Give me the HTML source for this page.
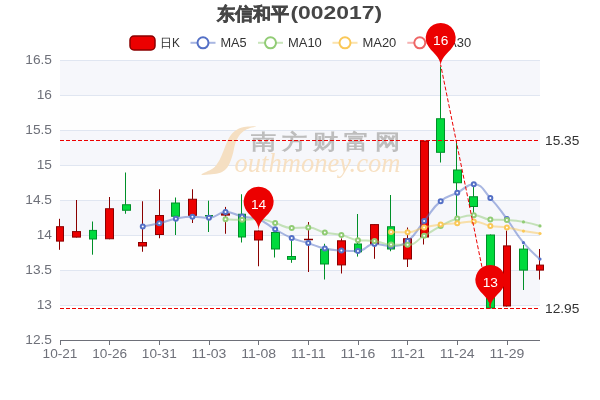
<!DOCTYPE html>
<html><head><meta charset="utf-8"><style>
html,body{margin:0;padding:0;background:#fff;overflow:hidden;}
svg{display:block;will-change:transform;}
text{font-family:"Liberation Sans",sans-serif;}
.ax{font-size:12px;fill:#6e7079;}
.lg{font-size:12px;fill:#333;}
.ml{font-size:12px;fill:#333;}
.pl{font-size:12px;fill:#fff;}
.tt{font-size:18px;font-weight:bold;fill:#464646;}
.wm1{font-family:"Liberation Serif",serif;font-style:italic;font-size:27px;fill:#f7e0c2;}
.wm2{font-size:25px;font-weight:bold;fill:#bdbdbd;}
</style></head><body>
<svg width="600" height="400" viewBox="0 0 600 400">
<rect x="60" y="60" width="480" height="35" fill="#f6f7fb"/>
<rect x="60" y="95" width="480" height="35" fill="#fefefe"/>
<rect x="60" y="130" width="480" height="35" fill="#f6f7fb"/>
<rect x="60" y="165" width="480" height="35" fill="#fefefe"/>
<rect x="60" y="200" width="480" height="35" fill="#f6f7fb"/>
<rect x="60" y="235" width="480" height="35" fill="#fefefe"/>
<rect x="60" y="270" width="480" height="35" fill="#f6f7fb"/>
<rect x="60" y="305" width="480" height="35" fill="#fefefe"/>
<line x1="60" y1="60.5" x2="540" y2="60.5" stroke="#e0e6f1" stroke-width="1"/>
<line x1="60" y1="95.5" x2="540" y2="95.5" stroke="#e0e6f1" stroke-width="1"/>
<line x1="60" y1="130.5" x2="540" y2="130.5" stroke="#e0e6f1" stroke-width="1"/>
<line x1="60" y1="165.5" x2="540" y2="165.5" stroke="#e0e6f1" stroke-width="1"/>
<line x1="60" y1="200.5" x2="540" y2="200.5" stroke="#e0e6f1" stroke-width="1"/>
<line x1="60" y1="235.5" x2="540" y2="235.5" stroke="#e0e6f1" stroke-width="1"/>
<line x1="60" y1="270.5" x2="540" y2="270.5" stroke="#e0e6f1" stroke-width="1"/>
<line x1="60" y1="305.5" x2="540" y2="305.5" stroke="#e0e6f1" stroke-width="1"/>
<line x1="60" y1="340.5" x2="540" y2="340.5" stroke="#6e7079" stroke-width="1"/>
<line x1="60.5" y1="340" x2="60.5" y2="345" stroke="#6e7079" stroke-width="1"/>
<line x1="109.5" y1="340" x2="109.5" y2="345" stroke="#6e7079" stroke-width="1"/>
<line x1="159.5" y1="340" x2="159.5" y2="345" stroke="#6e7079" stroke-width="1"/>
<line x1="209.5" y1="340" x2="209.5" y2="345" stroke="#6e7079" stroke-width="1"/>
<line x1="258.5" y1="340" x2="258.5" y2="345" stroke="#6e7079" stroke-width="1"/>
<line x1="308.5" y1="340" x2="308.5" y2="345" stroke="#6e7079" stroke-width="1"/>
<line x1="358.5" y1="340" x2="358.5" y2="345" stroke="#6e7079" stroke-width="1"/>
<line x1="407.5" y1="340" x2="407.5" y2="345" stroke="#6e7079" stroke-width="1"/>
<line x1="457.5" y1="340" x2="457.5" y2="345" stroke="#6e7079" stroke-width="1"/>
<line x1="507.5" y1="340" x2="507.5" y2="345" stroke="#6e7079" stroke-width="1"/>
<text x="52" y="64.3" class="ax" text-anchor="end" textLength="26.72" lengthAdjust="spacingAndGlyphs">16.5</text>
<text x="52" y="99.3" class="ax" text-anchor="end" textLength="15.27" lengthAdjust="spacingAndGlyphs">16</text>
<text x="52" y="134.3" class="ax" text-anchor="end" textLength="26.72" lengthAdjust="spacingAndGlyphs">15.5</text>
<text x="52" y="169.3" class="ax" text-anchor="end" textLength="15.27" lengthAdjust="spacingAndGlyphs">15</text>
<text x="52" y="204.3" class="ax" text-anchor="end" textLength="26.72" lengthAdjust="spacingAndGlyphs">14.5</text>
<text x="52" y="239.3" class="ax" text-anchor="end" textLength="15.27" lengthAdjust="spacingAndGlyphs">14</text>
<text x="52" y="274.3" class="ax" text-anchor="end" textLength="26.72" lengthAdjust="spacingAndGlyphs">13.5</text>
<text x="52" y="309.3" class="ax" text-anchor="end" textLength="15.27" lengthAdjust="spacingAndGlyphs">13</text>
<text x="52" y="344.3" class="ax" text-anchor="end" textLength="26.72" lengthAdjust="spacingAndGlyphs">12.5</text>
<text x="60.0" y="357.5" class="ax" text-anchor="middle" textLength="34.87" lengthAdjust="spacingAndGlyphs">10-21</text>
<text x="109.7" y="357.5" class="ax" text-anchor="middle" textLength="34.87" lengthAdjust="spacingAndGlyphs">10-26</text>
<text x="159.3" y="357.5" class="ax" text-anchor="middle" textLength="34.87" lengthAdjust="spacingAndGlyphs">10-31</text>
<text x="209.0" y="357.5" class="ax" text-anchor="middle" textLength="34.87" lengthAdjust="spacingAndGlyphs">11-03</text>
<text x="258.6" y="357.5" class="ax" text-anchor="middle" textLength="34.87" lengthAdjust="spacingAndGlyphs">11-08</text>
<text x="308.3" y="357.5" class="ax" text-anchor="middle" textLength="34.87" lengthAdjust="spacingAndGlyphs">11-11</text>
<text x="357.9" y="357.5" class="ax" text-anchor="middle" textLength="34.87" lengthAdjust="spacingAndGlyphs">11-16</text>
<text x="407.6" y="357.5" class="ax" text-anchor="middle" textLength="34.87" lengthAdjust="spacingAndGlyphs">11-21</text>
<text x="457.2" y="357.5" class="ax" text-anchor="middle" textLength="34.87" lengthAdjust="spacingAndGlyphs">11-24</text>
<text x="506.9" y="357.5" class="ax" text-anchor="middle" textLength="34.87" lengthAdjust="spacingAndGlyphs">11-29</text>
<line x1="59.50" y1="218.80" x2="59.50" y2="226.70" stroke="#8a0000" stroke-width="1"/>
<line x1="59.50" y1="241.10" x2="59.50" y2="249.80" stroke="#8a0000" stroke-width="1"/>
<rect x="56.50" y="226.70" width="7.00" height="14.40" fill="#ec0000" stroke="#8a0000" stroke-width="1"/>
<line x1="76.50" y1="200.00" x2="76.50" y2="231.60" stroke="#8a0000" stroke-width="1"/>
<line x1="76.50" y1="237.10" x2="76.50" y2="237.60" stroke="#8a0000" stroke-width="1"/>
<rect x="72.50" y="231.60" width="8.00" height="5.50" fill="#ec0000" stroke="#8a0000" stroke-width="1"/>
<line x1="92.50" y1="221.50" x2="92.50" y2="230.40" stroke="#008f28" stroke-width="1"/>
<line x1="92.50" y1="239.00" x2="92.50" y2="254.70" stroke="#008f28" stroke-width="1"/>
<rect x="89.50" y="230.40" width="7.00" height="8.60" fill="#00da3c" stroke="#008f28" stroke-width="1"/>
<line x1="109.50" y1="197.00" x2="109.50" y2="208.75" stroke="#8a0000" stroke-width="1"/>
<line x1="109.50" y1="238.75" x2="109.50" y2="239.25" stroke="#8a0000" stroke-width="1"/>
<rect x="105.50" y="208.75" width="8.00" height="30.00" fill="#ec0000" stroke="#8a0000" stroke-width="1"/>
<line x1="125.50" y1="172.50" x2="125.50" y2="204.75" stroke="#008f28" stroke-width="1"/>
<line x1="125.50" y1="210.25" x2="125.50" y2="213.75" stroke="#008f28" stroke-width="1"/>
<rect x="122.50" y="204.75" width="8.00" height="5.50" fill="#00da3c" stroke="#008f28" stroke-width="1"/>
<line x1="142.50" y1="201.25" x2="142.50" y2="242.50" stroke="#8a0000" stroke-width="1"/>
<line x1="142.50" y1="246.00" x2="142.50" y2="251.75" stroke="#8a0000" stroke-width="1"/>
<rect x="138.50" y="242.50" width="8.00" height="3.50" fill="#ec0000" stroke="#8a0000" stroke-width="1"/>
<line x1="159.50" y1="189.25" x2="159.50" y2="215.50" stroke="#8a0000" stroke-width="1"/>
<line x1="159.50" y1="234.50" x2="159.50" y2="238.25" stroke="#8a0000" stroke-width="1"/>
<rect x="155.50" y="215.50" width="8.00" height="19.00" fill="#ec0000" stroke="#8a0000" stroke-width="1"/>
<line x1="175.50" y1="197.50" x2="175.50" y2="203.00" stroke="#008f28" stroke-width="1"/>
<line x1="175.50" y1="216.25" x2="175.50" y2="235.00" stroke="#008f28" stroke-width="1"/>
<rect x="171.50" y="203.00" width="8.00" height="13.25" fill="#00da3c" stroke="#008f28" stroke-width="1"/>
<line x1="192.50" y1="189.25" x2="192.50" y2="199.25" stroke="#8a0000" stroke-width="1"/>
<line x1="192.50" y1="215.30" x2="192.50" y2="223.00" stroke="#8a0000" stroke-width="1"/>
<rect x="188.50" y="199.25" width="8.00" height="16.05" fill="#ec0000" stroke="#8a0000" stroke-width="1"/>
<line x1="208.50" y1="200.70" x2="208.50" y2="215.50" stroke="#008f28" stroke-width="1"/>
<line x1="208.50" y1="216.00" x2="208.50" y2="232.00" stroke="#008f28" stroke-width="1"/>
<rect x="205.50" y="215.50" width="7.00" height="0.50" fill="#00da3c" stroke="#008f28" stroke-width="1"/>
<line x1="225.50" y1="206.90" x2="225.50" y2="213.80" stroke="#8a0000" stroke-width="1"/>
<line x1="225.50" y1="215.10" x2="225.50" y2="233.75" stroke="#8a0000" stroke-width="1"/>
<rect x="221.50" y="213.80" width="8.00" height="1.30" fill="#ec0000" stroke="#8a0000" stroke-width="1"/>
<line x1="241.50" y1="194.25" x2="241.50" y2="214.25" stroke="#008f28" stroke-width="1"/>
<line x1="241.50" y1="237.00" x2="241.50" y2="242.50" stroke="#008f28" stroke-width="1"/>
<rect x="238.50" y="214.25" width="7.00" height="22.75" fill="#00da3c" stroke="#008f28" stroke-width="1"/>
<line x1="258.50" y1="230.50" x2="258.50" y2="231.00" stroke="#8a0000" stroke-width="1"/>
<line x1="258.50" y1="240.00" x2="258.50" y2="266.25" stroke="#8a0000" stroke-width="1"/>
<rect x="254.50" y="231.00" width="8.00" height="9.00" fill="#ec0000" stroke="#8a0000" stroke-width="1"/>
<line x1="274.50" y1="229.00" x2="274.50" y2="232.50" stroke="#008f28" stroke-width="1"/>
<line x1="274.50" y1="249.00" x2="274.50" y2="257.50" stroke="#008f28" stroke-width="1"/>
<rect x="271.50" y="232.50" width="8.00" height="16.50" fill="#00da3c" stroke="#008f28" stroke-width="1"/>
<line x1="291.50" y1="238.00" x2="291.50" y2="256.50" stroke="#008f28" stroke-width="1"/>
<line x1="291.50" y1="259.30" x2="291.50" y2="262.80" stroke="#008f28" stroke-width="1"/>
<rect x="287.50" y="256.50" width="8.00" height="2.80" fill="#00da3c" stroke="#008f28" stroke-width="1"/>
<line x1="308.50" y1="222.00" x2="308.50" y2="239.25" stroke="#8a0000" stroke-width="1"/>
<line x1="308.50" y1="239.75" x2="308.50" y2="272.00" stroke="#8a0000" stroke-width="1"/>
<rect x="304.50" y="239.25" width="8.00" height="0.50" fill="#ec0000" stroke="#8a0000" stroke-width="1"/>
<line x1="324.50" y1="243.75" x2="324.50" y2="249.25" stroke="#008f28" stroke-width="1"/>
<line x1="324.50" y1="264.00" x2="324.50" y2="279.50" stroke="#008f28" stroke-width="1"/>
<rect x="320.50" y="249.25" width="8.00" height="14.75" fill="#00da3c" stroke="#008f28" stroke-width="1"/>
<line x1="341.50" y1="238.40" x2="341.50" y2="240.80" stroke="#8a0000" stroke-width="1"/>
<line x1="341.50" y1="264.90" x2="341.50" y2="273.50" stroke="#8a0000" stroke-width="1"/>
<rect x="337.50" y="240.80" width="8.00" height="24.10" fill="#ec0000" stroke="#8a0000" stroke-width="1"/>
<line x1="357.50" y1="214.00" x2="357.50" y2="244.00" stroke="#008f28" stroke-width="1"/>
<line x1="357.50" y1="251.80" x2="357.50" y2="256.60" stroke="#008f28" stroke-width="1"/>
<rect x="354.50" y="244.00" width="7.00" height="7.80" fill="#00da3c" stroke="#008f28" stroke-width="1"/>
<line x1="374.50" y1="224.10" x2="374.50" y2="224.60" stroke="#8a0000" stroke-width="1"/>
<line x1="374.50" y1="243.90" x2="374.50" y2="258.80" stroke="#8a0000" stroke-width="1"/>
<rect x="370.50" y="224.60" width="8.00" height="19.30" fill="#ec0000" stroke="#8a0000" stroke-width="1"/>
<line x1="390.50" y1="195.00" x2="390.50" y2="226.75" stroke="#008f28" stroke-width="1"/>
<line x1="390.50" y1="249.00" x2="390.50" y2="251.25" stroke="#008f28" stroke-width="1"/>
<rect x="387.50" y="226.75" width="7.00" height="22.25" fill="#00da3c" stroke="#008f28" stroke-width="1"/>
<line x1="407.50" y1="227.50" x2="407.50" y2="238.75" stroke="#8a0000" stroke-width="1"/>
<line x1="407.50" y1="259.00" x2="407.50" y2="267.00" stroke="#8a0000" stroke-width="1"/>
<rect x="403.50" y="238.75" width="8.00" height="20.25" fill="#ec0000" stroke="#8a0000" stroke-width="1"/>
<line x1="423.50" y1="140.50" x2="423.50" y2="141.00" stroke="#8a0000" stroke-width="1"/>
<line x1="423.50" y1="237.00" x2="423.50" y2="244.50" stroke="#8a0000" stroke-width="1"/>
<rect x="420.50" y="141.00" width="8.00" height="96.00" fill="#ec0000" stroke="#8a0000" stroke-width="1"/>
<line x1="440.50" y1="66.50" x2="440.50" y2="118.75" stroke="#008f28" stroke-width="1"/>
<line x1="440.50" y1="152.30" x2="440.50" y2="162.50" stroke="#008f28" stroke-width="1"/>
<rect x="436.50" y="118.75" width="8.00" height="33.55" fill="#00da3c" stroke="#008f28" stroke-width="1"/>
<line x1="456.50" y1="140.50" x2="456.50" y2="170.00" stroke="#008f28" stroke-width="1"/>
<line x1="456.50" y1="182.75" x2="456.50" y2="220.50" stroke="#008f28" stroke-width="1"/>
<rect x="453.50" y="170.00" width="8.00" height="12.75" fill="#00da3c" stroke="#008f28" stroke-width="1"/>
<line x1="473.50" y1="187.00" x2="473.50" y2="196.75" stroke="#008f28" stroke-width="1"/>
<line x1="473.50" y1="206.50" x2="473.50" y2="214.50" stroke="#008f28" stroke-width="1"/>
<rect x="469.50" y="196.75" width="8.00" height="9.75" fill="#00da3c" stroke="#008f28" stroke-width="1"/>
<line x1="490.50" y1="234.50" x2="490.50" y2="235.00" stroke="#008f28" stroke-width="1"/>
<line x1="490.50" y1="308.00" x2="490.50" y2="308.50" stroke="#008f28" stroke-width="1"/>
<rect x="486.50" y="235.00" width="8.00" height="73.00" fill="#00da3c" stroke="#008f28" stroke-width="1"/>
<line x1="506.50" y1="230.60" x2="506.50" y2="245.90" stroke="#8a0000" stroke-width="1"/>
<line x1="506.50" y1="306.00" x2="506.50" y2="306.50" stroke="#8a0000" stroke-width="1"/>
<rect x="503.50" y="245.90" width="7.00" height="60.10" fill="#ec0000" stroke="#8a0000" stroke-width="1"/>
<line x1="523.50" y1="245.00" x2="523.50" y2="249.10" stroke="#008f28" stroke-width="1"/>
<line x1="523.50" y1="270.10" x2="523.50" y2="290.00" stroke="#008f28" stroke-width="1"/>
<rect x="519.50" y="249.10" width="8.00" height="21.00" fill="#00da3c" stroke="#008f28" stroke-width="1"/>
<line x1="539.50" y1="249.00" x2="539.50" y2="265.10" stroke="#8a0000" stroke-width="1"/>
<line x1="539.50" y1="270.10" x2="539.50" y2="279.60" stroke="#8a0000" stroke-width="1"/>
<rect x="536.50" y="265.10" width="7.00" height="5.00" fill="#ec0000" stroke="#8a0000" stroke-width="1"/>
<path d="M142.76,226.42 C142.76,226.42 151.11,225.13 159.31,223.20 C167.66,221.24 167.46,220.29 175.86,218.65 C184.01,217.06 184.12,216.75 192.41,216.75 C200.67,216.75 200.92,217.85 208.97,217.85 C217.47,217.85 217.14,212.11 225.52,212.11 C233.69,212.11 233.72,214.58 242.07,216.41 C250.27,218.21 250.92,216.41 258.62,219.36 C267.47,222.75 266.76,224.57 275.17,229.31 C283.32,233.90 283.13,234.44 291.72,238.02 C299.68,241.34 300.02,240.49 308.28,243.11 C316.57,245.74 316.37,246.63 324.83,248.51 C332.92,250.31 333.08,249.91 341.38,250.47 C349.63,251.03 349.99,251.03 357.93,251.03 C366.54,251.03 365.90,244.09 374.48,244.09 C382.45,244.09 382.91,246.04 391.03,246.04 C399.47,246.04 400.96,246.00 407.59,240.99 C417.51,233.49 415.85,231.00 424.14,221.03 C432.41,211.07 431.05,209.36 440.69,201.13 C447.60,195.23 448.98,196.97 457.24,192.76 C465.53,188.54 466.13,184.26 473.79,184.26 C482.68,184.26 482.95,190.33 490.34,198.11 C499.50,207.74 498.93,208.37 506.90,219.09 C515.48,230.64 514.31,231.60 523.45,242.65 C530.86,251.61 540.00,259.12 540.00,259.12" fill="none" stroke="#5470c6" stroke-width="2" stroke-opacity="0.5"/>
<circle cx="142.76" cy="226.42" r="2" fill="#fff" stroke="#5470c6" stroke-width="2"/>
<circle cx="159.31" cy="223.20" r="2" fill="#fff" stroke="#5470c6" stroke-width="2"/>
<circle cx="175.86" cy="218.65" r="2" fill="#fff" stroke="#5470c6" stroke-width="2"/>
<circle cx="192.41" cy="216.75" r="2" fill="#fff" stroke="#5470c6" stroke-width="2"/>
<circle cx="208.97" cy="217.85" r="2" fill="#fff" stroke="#5470c6" stroke-width="2"/>
<circle cx="225.52" cy="212.11" r="2" fill="#fff" stroke="#5470c6" stroke-width="2"/>
<circle cx="242.07" cy="216.41" r="2" fill="#fff" stroke="#5470c6" stroke-width="2"/>
<circle cx="258.62" cy="219.36" r="2" fill="#fff" stroke="#5470c6" stroke-width="2"/>
<circle cx="275.17" cy="229.31" r="2" fill="#fff" stroke="#5470c6" stroke-width="2"/>
<circle cx="291.72" cy="238.02" r="2" fill="#fff" stroke="#5470c6" stroke-width="2"/>
<circle cx="308.28" cy="243.11" r="2" fill="#fff" stroke="#5470c6" stroke-width="2"/>
<circle cx="324.83" cy="248.51" r="2" fill="#fff" stroke="#5470c6" stroke-width="2"/>
<circle cx="341.38" cy="250.47" r="2" fill="#fff" stroke="#5470c6" stroke-width="2"/>
<circle cx="357.93" cy="251.03" r="2" fill="#fff" stroke="#5470c6" stroke-width="2"/>
<circle cx="374.48" cy="244.09" r="2" fill="#fff" stroke="#5470c6" stroke-width="2"/>
<circle cx="391.03" cy="246.04" r="2" fill="#fff" stroke="#5470c6" stroke-width="2"/>
<circle cx="407.59" cy="240.99" r="2" fill="#fff" stroke="#5470c6" stroke-width="2"/>
<circle cx="424.14" cy="221.03" r="2" fill="#fff" stroke="#5470c6" stroke-width="2"/>
<circle cx="440.69" cy="201.13" r="2" fill="#fff" stroke="#5470c6" stroke-width="2"/>
<circle cx="457.24" cy="192.76" r="2" fill="#fff" stroke="#5470c6" stroke-width="2"/>
<circle cx="473.79" cy="184.26" r="2" fill="#fff" stroke="#5470c6" stroke-width="2"/>
<circle cx="490.34" cy="198.11" r="2" fill="#fff" stroke="#5470c6" stroke-width="2"/>
<circle cx="506.90" cy="219.09" r="2" fill="#fff" stroke="#5470c6" stroke-width="2"/>
<circle cx="523.45" cy="242.65" r="1.6" fill="#5470c6"/>
<circle cx="540.00" cy="259.12" r="1.6" fill="#5470c6"/>
<path d="M225.52,219.27 C225.52,219.27 233.80,219.81 242.07,219.81 C250.35,219.81 250.46,219.01 258.62,219.01 C267.01,219.01 266.95,220.81 275.17,223.03 C283.50,225.28 283.27,227.94 291.72,227.94 C299.83,227.94 300.17,227.61 308.28,227.61 C316.72,227.61 316.43,230.61 324.83,232.46 C332.98,234.26 333.26,233.02 341.38,234.92 C349.81,236.88 349.46,239.24 357.93,240.17 C366.01,241.06 366.29,240.17 374.48,241.06 C382.84,241.96 382.67,244.40 391.03,244.57 C399.22,244.75 399.85,244.75 407.59,244.75 C416.40,244.75 415.93,240.38 424.14,235.75 C432.49,231.04 432.21,230.52 440.69,226.08 C448.76,221.86 448.64,221.26 457.24,218.43 C465.20,215.80 465.58,215.15 473.79,215.15 C482.13,215.15 481.93,219.02 490.34,219.55 C498.48,220.06 498.64,219.55 506.90,220.06 C515.20,220.57 515.27,220.44 523.45,221.89 C531.82,223.38 540.00,225.94 540.00,225.94" fill="none" stroke="#91cc75" stroke-width="2" stroke-opacity="0.5"/>
<circle cx="225.52" cy="219.27" r="2" fill="#fff" stroke="#91cc75" stroke-width="2"/>
<circle cx="242.07" cy="219.81" r="2" fill="#fff" stroke="#91cc75" stroke-width="2"/>
<circle cx="258.62" cy="219.01" r="2" fill="#fff" stroke="#91cc75" stroke-width="2"/>
<circle cx="275.17" cy="223.03" r="2" fill="#fff" stroke="#91cc75" stroke-width="2"/>
<circle cx="291.72" cy="227.94" r="2" fill="#fff" stroke="#91cc75" stroke-width="2"/>
<circle cx="308.28" cy="227.61" r="2" fill="#fff" stroke="#91cc75" stroke-width="2"/>
<circle cx="324.83" cy="232.46" r="2" fill="#fff" stroke="#91cc75" stroke-width="2"/>
<circle cx="341.38" cy="234.92" r="2" fill="#fff" stroke="#91cc75" stroke-width="2"/>
<circle cx="357.93" cy="240.17" r="2" fill="#fff" stroke="#91cc75" stroke-width="2"/>
<circle cx="374.48" cy="241.06" r="2" fill="#fff" stroke="#91cc75" stroke-width="2"/>
<circle cx="391.03" cy="244.57" r="2" fill="#fff" stroke="#91cc75" stroke-width="2"/>
<circle cx="407.59" cy="244.75" r="2" fill="#fff" stroke="#91cc75" stroke-width="2"/>
<circle cx="424.14" cy="235.75" r="2" fill="#fff" stroke="#91cc75" stroke-width="2"/>
<circle cx="440.69" cy="226.08" r="2" fill="#fff" stroke="#91cc75" stroke-width="2"/>
<circle cx="457.24" cy="218.43" r="2" fill="#fff" stroke="#91cc75" stroke-width="2"/>
<circle cx="473.79" cy="215.15" r="2" fill="#fff" stroke="#91cc75" stroke-width="2"/>
<circle cx="490.34" cy="219.55" r="2" fill="#fff" stroke="#91cc75" stroke-width="2"/>
<circle cx="506.90" cy="220.06" r="2" fill="#fff" stroke="#91cc75" stroke-width="2"/>
<circle cx="523.45" cy="221.89" r="1.6" fill="#91cc75"/>
<circle cx="540.00" cy="225.94" r="1.6" fill="#91cc75"/>
<path d="M391.03,231.92 C391.03,231.92 399.48,232.28 407.59,232.28 C416.03,232.28 415.75,229.33 424.14,227.38 C432.30,225.47 432.37,225.61 440.69,224.56 C448.92,223.51 448.98,223.97 457.24,223.18 C465.53,222.39 465.65,221.38 473.79,221.38 C482.20,221.38 481.93,224.47 490.34,226.01 C498.48,227.49 498.70,226.24 506.90,227.49 C515.25,228.76 515.13,229.52 523.45,231.03 C531.68,232.52 540.00,233.50 540.00,233.50" fill="none" stroke="#fac858" stroke-width="2" stroke-opacity="0.5"/>
<circle cx="391.03" cy="231.92" r="2" fill="#fff" stroke="#fac858" stroke-width="2"/>
<circle cx="407.59" cy="232.28" r="2" fill="#fff" stroke="#fac858" stroke-width="2"/>
<circle cx="424.14" cy="227.38" r="2" fill="#fff" stroke="#fac858" stroke-width="2"/>
<circle cx="440.69" cy="224.56" r="2" fill="#fff" stroke="#fac858" stroke-width="2"/>
<circle cx="457.24" cy="223.18" r="2" fill="#fff" stroke="#fac858" stroke-width="2"/>
<circle cx="473.79" cy="221.38" r="2" fill="#fff" stroke="#fac858" stroke-width="2"/>
<circle cx="490.34" cy="226.01" r="2" fill="#fff" stroke="#fac858" stroke-width="2"/>
<circle cx="506.90" cy="227.49" r="2" fill="#fff" stroke="#fac858" stroke-width="2"/>
<circle cx="523.45" cy="231.03" r="1.6" fill="#fac858"/>
<circle cx="540.00" cy="233.50" r="1.6" fill="#fac858"/>
<path d="M256.00,126.40 C255.33,126.18 248.92,126.40 246.00,126.80 C243.08,127.20 240.78,127.72 238.50,128.80 C236.22,129.88 234.02,131.52 232.30,133.30 C230.58,135.08 229.38,137.30 228.20,139.50 C227.02,141.70 226.20,144.08 225.20,146.50 C224.20,148.92 223.30,151.50 222.20,154.00 C221.10,156.50 220.17,159.07 218.60,161.50 C217.03,163.93 215.65,166.42 212.80,168.60 C209.95,170.78 201.30,173.68 201.50,174.60 C201.70,175.52 210.58,174.53 214.00,174.10 C217.42,173.67 219.78,173.10 222.00,172.00 C224.22,170.90 225.83,169.40 227.30,167.50 C228.77,165.60 229.82,163.10 230.80,160.60 C231.78,158.10 232.50,155.20 233.20,152.50 C233.90,149.80 234.15,146.98 235.00,144.40 C235.85,141.82 236.88,139.18 238.30,137.00 C239.72,134.82 241.55,132.78 243.50,131.30 C245.45,129.82 247.92,128.92 250.00,128.10 C252.08,127.28 256.67,126.62 256.00,126.40 Z" fill="#f5dfc2"/>
<text x="234.5" y="172.2" class="wm1" textLength="166" lengthAdjust="spacingAndGlyphs">outhmoney.com</text>
<text transform="translate(250.5,148.6) scale(1.0,0.83)" class="wm2" textLength="150" lengthAdjust="spacing">南方财富网</text>
<line x1="60" y1="140.5" x2="540" y2="140.5" stroke="#ec0000" stroke-width="1" stroke-dasharray="4 2"/>
<line x1="60" y1="308.5" x2="540" y2="308.5" stroke="#ec0000" stroke-width="1" stroke-dasharray="4 2"/>
<line x1="490.34" y1="308" x2="440.69" y2="65" stroke="#ec0000" stroke-width="1" stroke-dasharray="4 2"/>
<text x="545" y="144.8" class="ml" textLength="34.35" lengthAdjust="spacingAndGlyphs">15.35</text>
<text x="545" y="312.8" class="ml" textLength="34.35" lengthAdjust="spacingAndGlyphs">12.95</text>
<rect x="130" y="36" width="25" height="14" rx="4" fill="#ec0000" stroke="#8a0000" stroke-width="1.5"/>
<text x="160" y="47.3" class="lg">日<tspan textLength="7.9" lengthAdjust="spacingAndGlyphs">K</tspan></text>
<line x1="190.5" y1="42.8" x2="215.5" y2="42.8" stroke="#5470c6" stroke-width="2" stroke-opacity="0.5"/>
<circle cx="203.0" cy="42.8" r="5.5" fill="#fff" stroke="#5470c6" stroke-width="2"/>
<text x="220.5" y="47.3" class="lg" textLength="26.20" lengthAdjust="spacingAndGlyphs">MA5</text>
<line x1="258" y1="42.8" x2="283" y2="42.8" stroke="#91cc75" stroke-width="2" stroke-opacity="0.5"/>
<circle cx="270.5" cy="42.8" r="5.5" fill="#fff" stroke="#91cc75" stroke-width="2"/>
<text x="288" y="47.3" class="lg" textLength="33.83" lengthAdjust="spacingAndGlyphs">MA10</text>
<line x1="332.5" y1="42.8" x2="357.5" y2="42.8" stroke="#fac858" stroke-width="2" stroke-opacity="0.5"/>
<circle cx="345.0" cy="42.8" r="5.5" fill="#fff" stroke="#fac858" stroke-width="2"/>
<text x="362.5" y="47.3" class="lg" textLength="33.83" lengthAdjust="spacingAndGlyphs">MA20</text>
<line x1="407.3" y1="42.8" x2="432.3" y2="42.8" stroke="#ee6666" stroke-width="2" stroke-opacity="0.5"/>
<circle cx="419.8" cy="42.8" r="5.5" fill="#fff" stroke="#ee6666" stroke-width="2"/>
<text x="437.3" y="47.3" class="lg" textLength="33.83" lengthAdjust="spacingAndGlyphs">MA30</text>
<path d="M427.14,44.36 A15.0,15.0 0 1 1 454.24,44.36 C450.39,52.49 440.69,56.00 440.69,66.50 C440.69,56.00 430.99,52.49 427.14,44.36 Z" fill="#ec0000"/>
<text x="440.69" y="44.90" class="pl" text-anchor="middle" textLength="15.27" lengthAdjust="spacingAndGlyphs">16</text>
<path d="M245.07,208.16 A15.0,15.0 0 1 1 272.17,208.16 C268.32,216.29 258.62,219.80 258.62,230.30 C258.62,219.80 248.93,216.29 245.07,208.16 Z" fill="#ec0000"/>
<text x="258.62" y="208.70" class="pl" text-anchor="middle" textLength="15.27" lengthAdjust="spacingAndGlyphs">14</text>
<path d="M476.79,286.36 A15.0,15.0 0 1 1 503.90,286.36 C500.04,294.49 490.34,298.00 490.34,308.50 C490.34,298.00 480.65,294.49 476.79,286.36 Z" fill="#ec0000"/>
<text x="490.34" y="286.90" class="pl" text-anchor="middle" textLength="15.27" lengthAdjust="spacingAndGlyphs">13</text>
<text x="217" y="20" class="tt" stroke="#464646" stroke-width="0.6">东信和平</text>
<text x="290.5" y="19.4" class="tt" textLength="91.60" lengthAdjust="spacingAndGlyphs">(002017)</text>
</svg>
</body></html>
